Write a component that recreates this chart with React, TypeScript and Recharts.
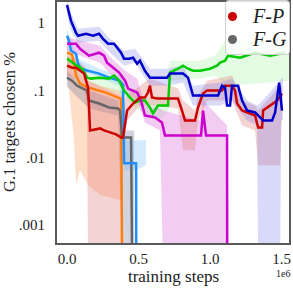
import React from 'react';
import { ComposedChart, Line, Area, XAxis, YAxis } from 'recharts';

// x values are in units of 1e6 training steps, y is % of G.1 targets chosen (log scale)
type Pt = [number, number];
type Band = [number, number, number]; // x, low, high

const X_TICKS = [0, 0.5, 1.0, 1.5];
const Y_TICKS = [0.001, 0.01, 0.1, 1];
const Y_TICK_LABELS: Record<number, string> = { 0.001: '.001', 0.01: '.01', 0.1: '.1', 1: '1' };
const FLOOR = 0.0003; // runs that stop picking G.1 targets fall off the bottom

const BLUE: Pt[] = [
  [0.0, 1.84], [0.028, 1.07], [0.063, 0.711], [0.077, 0.643], [0.133, 0.688], [0.182, 0.643],
  [0.224, 0.688], [0.252, 0.58], [0.287, 0.49], [0.329, 0.49], [0.378, 0.361], [0.399, 0.294],
  [0.434, 0.294], [0.462, 0.304], [0.49, 0.248], [0.51, 0.275], [0.545, 0.195], [0.58, 0.154],
  [0.699, 0.154], [0.72, 0.177], [0.811, 0.177], [0.846, 0.154], [0.881, 0.0835], [1.056, 0.0835],
  [1.084, 0.117], [1.105, 0.11], [1.119, 0.0594], [1.14, 0.0594], [1.154, 0.117], [1.196, 0.117],
  [1.224, 0.0705], [1.259, 0.0501], [1.315, 0.0469], [1.35, 0.0395], [1.371, 0.0357], [1.434, 0.0357],
  [1.455, 0.0469], [1.483, 0.13], [1.503, 0.0501],
];
const BLUE_BAND: Band[] = [
  [0.0, 1.31, 2.4], [0.028, 0.762, 1.4], [0.077, 0.507, 0.815], [0.224, 0.542, 0.873],
  [0.287, 0.386, 0.621], [0.399, 0.232, 0.386], [0.476, 0.257, 0.413], [0.58, 0.117, 0.209],
  [0.699, 0.117, 0.209], [0.811, 0.13, 0.232], [0.881, 0.0594, 0.117], [1.07, 0.0594, 0.13],
  [1.154, 0.0705, 0.149], [1.259, 0.0357, 0.0705], [1.329, 0.0301, 0.0594], [1.336, FLOOR, 0.0594],
  [1.49, FLOOR, 0.139], [1.497, 0.0357, 0.149], [1.51, 0.0357, 0.149],
];

const MAGENTA: Pt[] = [
  [0.0, 0.49], [0.063, 0.49], [0.091, 0.413], [0.154, 0.326], [0.224, 0.361], [0.259, 0.326],
  [0.28, 0.257], [0.315, 0.224], [0.364, 0.183], [0.406, 0.139], [0.427, 0.106], [0.49, 0.0925],
  [0.517, 0.0705], [0.545, 0.0423], [0.615, 0.0395], [0.664, 0.0333], [0.685, 0.0214], [0.937, 0.0214],
  [0.951, 0.0501], [0.972, 0.0214], [1.119, 0.0214], [1.12, FLOOR],
];
const MAGENTA_BAND: Band[] = [
  [0.0, 0.386, 0.621], [0.091, 0.326, 0.542], [0.231, 0.257, 0.457], [0.315, 0.165, 0.294],
  [0.406, 0.099, 0.195], [0.49, 0.0705, 0.149], [0.545, 0.0333, 0.0594], [0.65, 0.0254, 0.0537],
  [0.671, FLOOR, 0.0501], [0.93, FLOOR, 0.0357], [0.951, FLOOR, 0.0705], [1.119, FLOOR, 0.0301],
];

const GREEN: Pt[] = [
  [0.0, 0.294], [0.021, 0.275], [0.07, 0.232], [0.105, 0.209], [0.14, 0.154], [0.168, 0.149],
  [0.224, 0.154], [0.294, 0.149], [0.329, 0.165], [0.364, 0.139], [0.399, 0.099], [0.441, 0.078],
  [0.476, 0.0658], [0.51, 0.0705], [0.545, 0.0705], [0.58, 0.0555], [0.601, 0.0453], [0.636, 0.0594],
  [0.706, 0.0594], [0.72, 0.183], [0.776, 0.209], [0.811, 0.232], [0.846, 0.209], [0.881, 0.195],
  [0.93, 0.195], [1.0, 0.209], [1.049, 0.232], [1.07, 0.257], [1.105, 0.275], [1.126, 0.326],
  [1.21, 0.304], [1.315, 0.361], [1.42, 0.326], [1.524, 0.361],
];
const GREEN_BAND: Band[] = [
  [0.0, 0.232, 0.361], [0.14, 0.13, 0.195], [0.399, 0.0835, 0.139], [0.476, 0.0537, 0.0835],
  [0.58, 0.0423, 0.0754], [0.636, 0.0357, 0.0835], [0.706, 0.0469, 0.0754], [0.72, 0.139, 0.275],
  [0.93, 0.149, 0.275], [1.035, 0.165, 0.326], [1.105, 0.117, 0.542], [1.559, 0.139, 0.542],
];

const RED: Pt[] = [
  [0.0, 0.232], [0.035, 0.216], [0.063, 0.216], [0.119, 0.177], [0.147, 0.11], [0.154, 0.0555],
  [0.161, 0.0254], [0.231, 0.0272], [0.259, 0.0254], [0.343, 0.0222], [0.378, 0.02], [0.392, 0.02],
  [0.42, 0.0501], [0.462, 0.0636], [0.51, 0.078], [0.545, 0.078], [0.566, 0.0925], [0.58, 0.117],
  [0.594, 0.078], [0.629, 0.0754], [0.776, 0.0754], [0.804, 0.0501], [0.825, 0.0357], [0.895, 0.0357],
  [0.916, 0.0555], [0.951, 0.0894], [0.979, 0.099], [1.084, 0.099], [1.105, 0.117], [1.154, 0.117],
  [1.175, 0.099], [1.189, 0.0636], [1.224, 0.0501], [1.315, 0.0423], [1.336, 0.0281], [1.364, 0.0281],
  [1.371, 0.0501], [1.469, 0.0705], [1.503, 0.0894],
];
const RED_BAND: Band[] = [
  [0.0, 0.165, 0.326], [0.063, 0.149, 0.294], [0.119, 0.117, 0.232], [0.14, 0.0501, 0.195],
  [0.147, FLOOR, 0.139], [0.378, FLOOR, 0.0835], [0.392, 0.0129, 0.0705], [0.42, 0.0357, 0.0835],
  [0.51, 0.0594, 0.117], [0.58, 0.0594, 0.149], [0.776, 0.0537, 0.106], [0.811, 0.0129, 0.0705],
  [0.895, 0.0129, 0.0501], [0.916, 0.0357, 0.0835], [0.979, 0.0705, 0.139], [1.154, 0.0705, 0.165],
  [1.224, 0.0301, 0.0705], [1.315, 0.0254, 0.0594], [1.336, 0.00772, 0.0501], [1.49, 0.00772, 0.117],
  [1.503, 0.0501, 0.117],
];

const ORANGE: Pt[] = [
  [0.0, 0.361], [0.035, 0.337], [0.049, 0.257], [0.063, 0.165], [0.091, 0.126], [0.147, 0.11],
  [0.273, 0.0925], [0.357, 0.078], [0.378, 0.0754], [0.385, FLOOR],
];
const ORANGE_BAND: Band[] = [
  [0.0, 0.165, 0.457], [0.021, 0.0705, 0.413], [0.049, 0.0181, 0.326], [0.063, 0.00391, 0.232],
  [0.091, 0.00652, 0.165], [0.147, 0.00391, 0.139], [0.231, 0.00279, 0.117], [0.371, 0.00235, 0.099],
  [0.385, 0.00235, 0.099],
];

const SKY: Pt[] = [
  [0.0, 0.643], [0.014, 0.542], [0.028, 0.386], [0.063, 0.348], [0.077, 0.248], [0.098, 0.209],
  [0.147, 0.195], [0.224, 0.177], [0.294, 0.154], [0.364, 0.139], [0.392, 0.121], [0.399, 0.00826],
  [0.483, 0.00826], [0.484, FLOOR],
];
const SKY_BAND: Band[] = [
  [0.0, 0.542, 0.815], [0.077, 0.209, 0.294], [0.224, 0.154, 0.209], [0.364, 0.117, 0.165],
  [0.392, 0.0501, 0.149], [0.399, 0.00652, 0.0181], [0.483, 0.00652, 0.0181], [0.552, 0.00772, 0.0181],
];

const GRAY: Pt[] = [
  [0.0, 0.154], [0.035, 0.139], [0.07, 0.117], [0.112, 0.106], [0.14, 0.099], [0.154, 0.0705],
  [0.224, 0.0636], [0.294, 0.0555], [0.357, 0.0537], [0.371, 0.0501], [0.385, 0.02], [0.448, 0.02],
  [0.455, FLOOR],
];
const GRAY_BAND: Band[] = [
  [0.0, 0.113, 0.195], [0.154, 0.0537, 0.099], [0.357, 0.0423, 0.0705], [0.385, FLOOR, 0.0254],
  [0.469, FLOOR, 0.0254],
];

const SERIES = [
  { key: 'orange', color: '#ff7f0e', fill: '#ffa060', op: 0.35, line: ORANGE, band: ORANGE_BAND },
  { key: 'gray', color: '#666666', fill: '#8080a0', op: 0.35, line: GRAY, band: GRAY_BAND },
  { key: 'sky', color: '#1e8fff', fill: '#70b8ff', op: 0.3, line: SKY, band: SKY_BAND },
  { key: 'green', color: '#00cc00', fill: '#90ec90', op: 0.25, line: GREEN, band: GREEN_BAND },
  { key: 'magenta', color: '#cc00cc', fill: '#e080e0', op: 0.4, line: MAGENTA, band: MAGENTA_BAND },
  { key: 'red', color: '#cc0000', fill: '#e08080', op: 0.35, line: RED, band: RED_BAND },
  { key: 'blue', color: '#0000cc', fill: '#8080e8', op: 0.3, line: BLUE, band: BLUE_BAND },
];

const LEGEND = [
  { label: 'F-P', color: '#cc0000' },
  { label: 'F-G', color: '#666666' },
];

const SERIF = '"Liberation Serif", "DejaVu Serif", serif';

export default function App() {
  return (
    <div style={{ position: 'absolute', left: 0, top: 0, width: 293, height: 289, fontFamily: SERIF, background: '#fff' }}>
      <ComposedChart width={293} height={289} margin={{ top: 1, right: 2, bottom: 0, left: 0 }}>
        <XAxis
          type="number"
          dataKey="x"
          domain={[-0.077, 1.566]}
          allowDataOverflow
          ticks={X_TICKS}
          tickFormatter={(v: number) => v.toFixed(1)}
          axisLine={false}
          tickLine={false}
          tickSize={0}
          tickMargin={9}
          height={45}
          tick={{ fill: '#222', fontSize: 15, fontFamily: SERIF }}
        />
        <YAxis
          scale="log"
          domain={[0.000525, 2.11]}
          allowDataOverflow
          ticks={Y_TICKS}
          tickFormatter={(v: number) => Y_TICK_LABELS[v] ?? String(v)}
          axisLine={false}
          tickLine={false}
          tickSize={0}
          tickMargin={11}
          width={56}
          tick={{ fill: '#222', fontSize: 15, fontFamily: SERIF }}
        />
        {SERIES.map((s) => (
          <Area
            key={s.key + '-band'}
            data={s.band.map(([x, lo, hi]) => ({ x, band: [lo, hi] }))}
            dataKey="band"
            type="linear"
            stroke="none"
            fill={s.fill}
            fillOpacity={s.op}
            isAnimationActive={false}
          />
        ))}
        {SERIES.map((s) => (
          <Line
            key={s.key}
            data={s.line.map(([x, y]) => ({ x, y }))}
            dataKey="y"
            type="linear"
            stroke={s.color}
            strokeWidth={2.5}
            dot={false}
            isAnimationActive={false}
          />
        ))}
      </ComposedChart>

      {/* axes frame */}
      <div style={{ position: 'absolute', left: 55, top: 0, width: 236, height: 245, border: '2px solid #5a5a5a', boxSizing: 'border-box', pointerEvents: 'none' }} />

      {/* legend */}
      <div style={{ position: 'absolute', left: 225, top: 0, width: 65, height: 55, border: '1px solid #d0d0d0', borderRadius: 4, background: 'rgba(255,255,255,0.8)', boxSizing: 'border-box' }}>
        {LEGEND.map((l, i) => (
          <div key={l.label} style={{ position: 'absolute', left: 0, top: 4 + i * 23, height: 22, display: 'flex', alignItems: 'center' }}>
            <span style={{ display: 'inline-block', width: 9, height: 9, borderRadius: '50%', background: l.color, marginLeft: 2 }} />
            <span style={{ marginLeft: 16, fontStyle: 'italic', fontSize: 20, color: '#222', lineHeight: '22px' }}>{l.label}</span>
          </div>
        ))}
      </div>

      <div style={{ position: 'absolute', left: 0, width: 347, top: 268, textAlign: 'center', fontSize: 17, color: '#222', lineHeight: '18px' }}>
        training steps
      </div>
      <div style={{ position: 'absolute', left: 276, top: 269, fontSize: 10, color: '#222', lineHeight: '10px' }}>1e6</div>
      <div
        style={{
          position: 'absolute', left: 10, top: 122, width: 160, marginLeft: -80, marginTop: -8,
          textAlign: 'center', fontSize: 16.5, color: '#222', lineHeight: '16px',
          transform: 'rotate(-90deg)', whiteSpace: 'nowrap',
        }}
      >
        G.1 targets chosen %
      </div>
    </div>
  );
}
